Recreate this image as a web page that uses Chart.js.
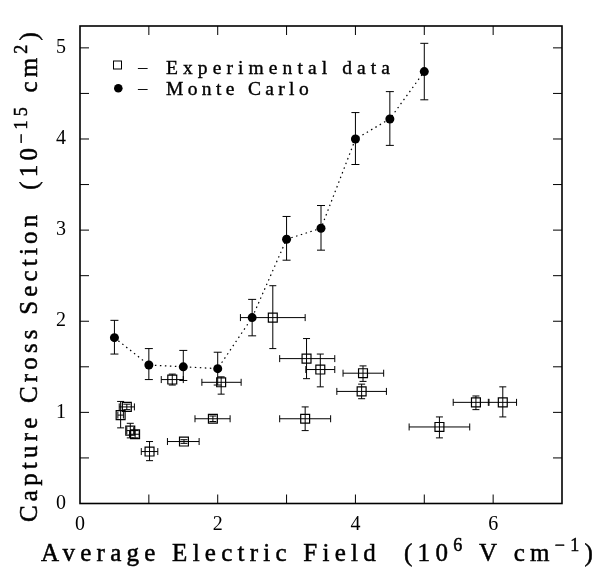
<!DOCTYPE html>
<html><head><meta charset="utf-8">
<script src="https://cdn.jsdelivr.net/npm/chart.js@4/dist/chart.umd.min.js"></script>
<style>html,body{margin:0;padding:0;background:#fff}#wrap{width:611px;height:571px}</style>
</head><body><div id="wrap"><canvas id="c" width="611" height="571"></canvas></div>
<script>
// ---- data ----
const xTickValues = [0,1,2,3,4,5,6,7];
const xTickLabels = ['0','','2','','4','','6',''];
const yTickValues = [0,0.5,1,1.5,2,2.5,3,3.5,4,4.5,5];
const yTickLabels = ['0','','1','','2','','3','','4','','5'];

const mcX   = [0.5, 1.0, 1.5, 2.0, 2.5, 3.0, 3.5, 4.0, 4.5, 5.0];
const mcY   = [1.82,1.52,1.50,1.48,2.04,2.90,3.02,4.00,4.22,4.74];
const mcYLo = [1.64,1.36,1.35,1.30,1.84,2.67,2.78,3.72,3.93,4.43];
const mcYHi = [2.01,1.70,1.68,1.66,2.24,3.15,3.27,4.29,4.52,5.05];

const expX   = [0.59,0.68,0.73,0.80,1.01,1.51,1.93,1.34,2.05,2.80,3.29,3.49,4.11,4.09,3.27,5.22,5.75,6.14];
const expY   = [0.97,1.06,0.80,0.76,0.57,0.68,0.93,1.36,1.33,2.04,1.59,1.47,1.43,1.23,0.93,0.84,1.11,1.11];
const expXLo = [0.55,0.57,0.68,0.72,0.89,1.27,1.67,1.18,1.77,2.33,2.90,3.28,3.82,3.73,2.90,4.78,5.42,5.93];
const expXHi = [0.63,0.79,0.78,0.86,1.13,1.73,2.18,1.50,2.34,3.27,3.70,3.70,4.41,4.45,3.64,5.66,5.94,6.34];
const expYLo = [0.83,1.03,0.72,0.72,0.47,0.66,0.90,1.30,1.20,1.70,1.37,1.28,1.34,1.15,0.80,0.72,1.03,0.95];
const expYHi = [1.12,1.09,0.88,0.80,0.68,0.70,0.96,1.42,1.39,2.39,1.81,1.64,1.51,1.31,1.06,0.95,1.18,1.28];

const legendLabels = ['Experimental data', 'Monte Carlo'];
const xTitle = [['Average Electric Field  (10',false],['6',true],[' V cm',false],['\u22121',true],[')',false]];
const yTitle = [['Capture Cross Section  (10',false],['\u221215',true],[' cm',false],['2',true],[')',false]];

const FONT = '"Liberation Serif", "DejaVu Serif", serif';

function drawRich(ctx, segs, x, y, size, targetW){
  const supSize = Math.round(size*0.7);
  ctx.letterSpacing = '0px';
  let nat = 0, n = 0;
  for (const [t,s] of segs){
    ctx.font = (s?supSize:size) + 'px ' + FONT;
    nat += ctx.measureText(t).width; n += t.length;
  }
  const ls = (targetW - nat) / n;
  let cx = x;
  ctx.lineWidth = 0.5; ctx.strokeStyle = '#000';
  for (const [t,s] of segs){
    ctx.font = (s?supSize:size) + 'px ' + FONT;
    ctx.letterSpacing = ls + 'px';
    const yy = s ? y - size*0.42 : y;
    ctx.fillText(t, cx, yy);
    ctx.strokeText(t, cx, yy);
    cx += ctx.measureText(t).width;
  }
  ctx.letterSpacing = '0px';
}
function drawFit(ctx, text, x, y, size, targetW){
  ctx.letterSpacing='0px';
  ctx.font = size+'px '+FONT;
  const w = ctx.measureText(text).width;
  ctx.letterSpacing = ((targetW-w)/text.length)+'px';
  ctx.lineWidth = 0.4; ctx.strokeStyle = '#000';
  ctx.fillText(text, x, y);
  ctx.strokeText(text, x, y);
  ctx.letterSpacing='0px';
}

const errorBars = {
  id:'errorBars',
  beforeDatasetsDraw(chart){
    const {ctx, scales:{x, y}} = chart;
    ctx.save();
    ctx.strokeStyle = '#000'; ctx.lineWidth = 1;
    const cap = 3.5;
    ctx.beginPath();
    expX.forEach((v,i)=>{
      const px = x.getPixelForValue(v), py = y.getPixelForValue(expY[i]);
      const y1 = y.getPixelForValue(expYLo[i]), y2 = y.getPixelForValue(expYHi[i]);
      const x1 = x.getPixelForValue(expXLo[i]), x2 = x.getPixelForValue(expXHi[i]);
      ctx.moveTo(px,y1); ctx.lineTo(px,y2);
      ctx.moveTo(px-cap,y1); ctx.lineTo(px+cap,y1);
      ctx.moveTo(px-cap,y2); ctx.lineTo(px+cap,y2);
      ctx.moveTo(x1,py); ctx.lineTo(x2,py);
      ctx.moveTo(x1,py-cap); ctx.lineTo(x1,py+cap);
      ctx.moveTo(x2,py-cap); ctx.lineTo(x2,py+cap);
    });
    mcX.forEach((v,i)=>{
      const px = x.getPixelForValue(v);
      const y1 = y.getPixelForValue(mcYLo[i]), y2 = y.getPixelForValue(mcYHi[i]);
      ctx.moveTo(px,y1); ctx.lineTo(px,y2);
      ctx.moveTo(px-4,y1); ctx.lineTo(px+4,y1);
      ctx.moveTo(px-4,y2); ctx.lineTo(px+4,y2);
    });
    ctx.stroke();
    ctx.restore();
  }
};

const frame = {
  id:'frame',
  afterDraw(chart){
    const {ctx, chartArea:a, scales:{x, y}} = chart;
    ctx.save();
    ctx.strokeStyle='#000';
    ctx.lineWidth = 1;
    ctx.beginPath();
    x.ticks.forEach(t=>{
      if (t.value<=0 || t.value>=7) return;
      const px = x.getPixelForValue(t.value);
      ctx.moveTo(px,a.bottom); ctx.lineTo(px,a.bottom-9);
      ctx.moveTo(px,a.top); ctx.lineTo(px,a.top+9);
    });
    y.ticks.forEach(t=>{
      if (t.value<=0) return;
      const py = y.getPixelForValue(t.value);
      ctx.moveTo(a.left,py); ctx.lineTo(a.left+9,py);
      ctx.moveTo(a.right,py); ctx.lineTo(a.right-9,py);
    });
    ctx.stroke();
    ctx.lineWidth = 1.6;
    ctx.strokeRect(a.left, a.top, a.right-a.left, a.bottom-a.top);

    // legend
    ctx.fillStyle='#000';
    ctx.lineWidth=1;
    ctx.strokeRect(113.5, 61, 8, 8);
    ctx.beginPath(); ctx.arc(118.3, 88.3, 4.3, 0, Math.PI*2); ctx.fill();
    ctx.textAlign='left'; ctx.textBaseline='alphabetic';
    ctx.font = '19px '+FONT;
    ctx.fillText('\u2013', 138, 73);
    ctx.fillText('\u2013', 138, 94);
    drawFit(ctx, legendLabels[0], 166, 74, 19.5, 229);
    drawFit(ctx, legendLabels[1], 166, 95, 19.5, 147);

    // axis titles
    drawRich(ctx, xTitle, 41, 561, 25, 557);
    ctx.save();
    ctx.translate(37, 522);
    ctx.rotate(-Math.PI/2);
    drawRich(ctx, yTitle, 0, 0, 25, 494);
    ctx.restore();
    ctx.restore();
  }
};

new Chart(document.getElementById('c'), {
  type:'scatter',
  data:{datasets:[
    {label:legendLabels[1], data: mcX.map((v,i)=>({x:v, y:mcY[i]})), showLine:true,
     borderColor:'#000', borderWidth:1.2, borderDash:[1.5,3.5], pointStyle:'circle',
     pointRadius:4.5, pointBackgroundColor:'#000', pointBorderColor:'#000', pointBorderWidth:0},
    {label:legendLabels[0], data: expX.map((v,i)=>({x:v, y:expY[i]})), showLine:false,
     pointStyle:'rect', pointRadius:6.3, pointBackgroundColor:'rgba(0,0,0,0)', pointBorderColor:'#000', pointBorderWidth:1.2}
  ]},
  options:{
    responsive:false, animation:false, devicePixelRatio:1,
    layout:{padding:{top:26, right:49, left:0, bottom:0}},
    plugins:{legend:{display:false}, tooltip:{enabled:false}},
    scales:{
      x:{type:'linear', min:0, max:7,
        afterBuildTicks:s=>{s.ticks = xTickValues.map(v=>({value:v}));},
        afterFit:s=>{s.height = 67.5;},
        grid:{display:false, drawTicks:false}, border:{display:false},
        ticks:{autoSkip:false, maxRotation:0, padding:9, color:'#000',
          font:{family:FONT, size:20},
          callback:(v)=>xTickLabels[xTickValues.indexOf(v)] ?? ''}},
      y:{type:'linear', min:0, max:5.24,
        afterBuildTicks:s=>{s.ticks = yTickValues.map(v=>({value:v}));},
        afterFit:s=>{s.width = 80;},
        grid:{display:false, drawTicks:false}, border:{display:false},
        ticks:{autoSkip:false, padding:14, color:'#000',
          font:{family:FONT, size:20},
          callback:(v)=>yTickLabels[yTickValues.indexOf(v)] ?? ''}}
    }
  },
  plugins:[errorBars, frame]
});
</script></body></html>
